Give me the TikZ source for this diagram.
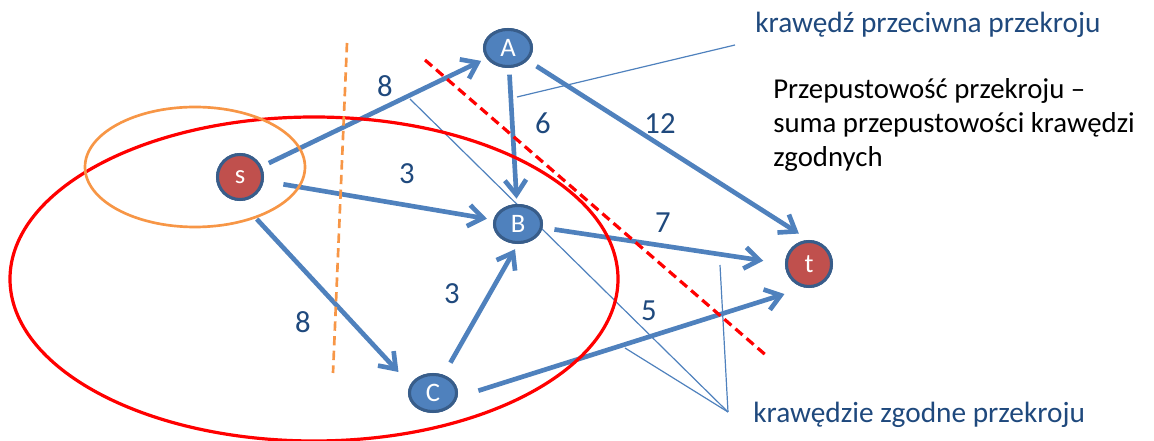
\documentclass[tikz,border=0pt]{standalone}
\usepackage{fontspec}
\setmainfont{Carlito}
\usepackage{xcolor}
\usetikzlibrary{positioning,arrows.meta,shapes.geometric,calc}
\definecolor{vblue}{HTML}{4F81BD}
\definecolor{vborder}{HTML}{385D8A}
\definecolor{vred}{HTML}{C0504D}
\definecolor{lblue}{HTML}{1F497D}
\definecolor{cutorange}{HTML}{F79646}
\definecolor{cutred}{HTML}{FF0000}

\begin{document}
\begin{tikzpicture}[
  x=0.75pt, y=-0.75pt,
  every node/.style={font=\fontsize{22}{26}\selectfont},
  vert/.style={ellipse, draw=vborder, line width=2.25pt, fill=vblue,
               minimum width=35.25pt, minimum height=27.75pt, inner sep=0pt,
               text=white, font=\fontsize{20}{22}\selectfont},
  term/.style={vert, circle, fill=vred, minimum size=33.75pt},
  edge/.style={-{Straight Barb[length=11pt,width=16pt]}, line width=3.5pt, draw=vblue},
  capnum/.style={text=lblue, inner sep=0pt, font=\fontsize{23}{26}\selectfont},
  lead/.style={draw=vblue, line width=0.9pt},
]
  \useasboundingbox (0,0) rectangle (1154,441);

  % Vertices of the network
  \node[term] (s) at (240,177) {s};
  \node[vert] (A) at (508,48)  {A};
  \node[vert] (B) at (518,224) {B};
  \node[vert] (C) at (433,393) {C};
  \node[term] (t) at (809,264) {t};

  % Edges with capacities
  \draw[edge, shorten <=6pt,  shorten >=4.5pt]  (s) -- (A);
  \draw[edge, shorten <=15pt, shorten >=5pt]    (s) -- (B);
  \draw[edge, shorten <=18.5pt, shorten >=13pt] (s.south) -- (C.160);
  \draw[edge, shorten <=5pt,  shorten >=4pt]    (A) -- (B);
  \draw[edge, shorten <=8pt, shorten >=9pt]     (A) -- (t.north);
  \draw[edge, shorten <=9pt, shorten >=16.5pt]  (B) -- (t.west);
  \draw[edge, shorten <=10.5pt, shorten >=4.5pt] (C.60) -- (B.south);
  \draw[edge, shorten <=16.5pt, shorten >=16pt] (C.-10) -- (t.260);

  \node[capnum] (cSA) at (385,86)  {8};
  \node[capnum] (cSB) at (407,174) {3};
  \node[capnum] (cSC) at (303,322) {8};
  \node[capnum] (cAB) at (543,123) {6};
  \node[capnum] (cAt) at (660,124) {12};
  \node[capnum] (cBt) at (663,223) {7};
  \node[capnum] (cCB) at (452,294) {3};
  \node[capnum] (cCt) at (649,311) {5};

  % Pointer lines to the edge descriptions
  \coordinate (opTip) at (735,45);
  \coordinate (opEnd) at (517,97);
  \coordinate (fwTip) at (728,412);
  \coordinate (fwSA)  at (410,99);
  \coordinate (fwBt)  at (720,265);
  \coordinate (fwCt)  at (625,348);
  \draw[lead] (opTip) -- (opEnd);
  \draw[lead] (fwTip) -- (fwSA);
  \draw[lead] (fwTip) -- (fwBt);
  \draw[lead] (fwTip) -- (fwCt);

  % Cuts
  \draw[cutred, line width=2.4pt] (314,279) ellipse [x radius=304, y radius=162];
  \draw[cutorange, line width=2pt] (195,167) ellipse [x radius=110, y radius=60];
  \draw[cutorange, line width=2pt, dash pattern=on 7pt off 4pt] (347,43) -- (333,373);
  \draw[cutred, line width=2.4pt, dash pattern=on 7pt off 4pt] (425,60) -- (768,357);

  % Redraw vertices over the cuts and pointers
  \foreach \v/\k in {s/term, A/vert, B/vert, C/vert, t/term}
    \node[\k] at (\v) {\v};

  \node[capnum, anchor=base west, font=\fontsize{22}{26}\selectfont] (opText) at (755,33) {krawędź przeciwna przekroju};
  \node[capnum, anchor=base west, font=\fontsize{22}{26}\selectfont] (fwText) at (753,423) {krawędzie zgodne przekroju};
  \node[inner sep=0pt, anchor=base west, align=left, font=\fontsize{21.6}{25.5}\selectfont]
    (sumText) at (773,167)
    {Przepustowość przekroju –\\suma przepustowości krawędzi\\zgodnych};
\end{tikzpicture}
\end{document}
